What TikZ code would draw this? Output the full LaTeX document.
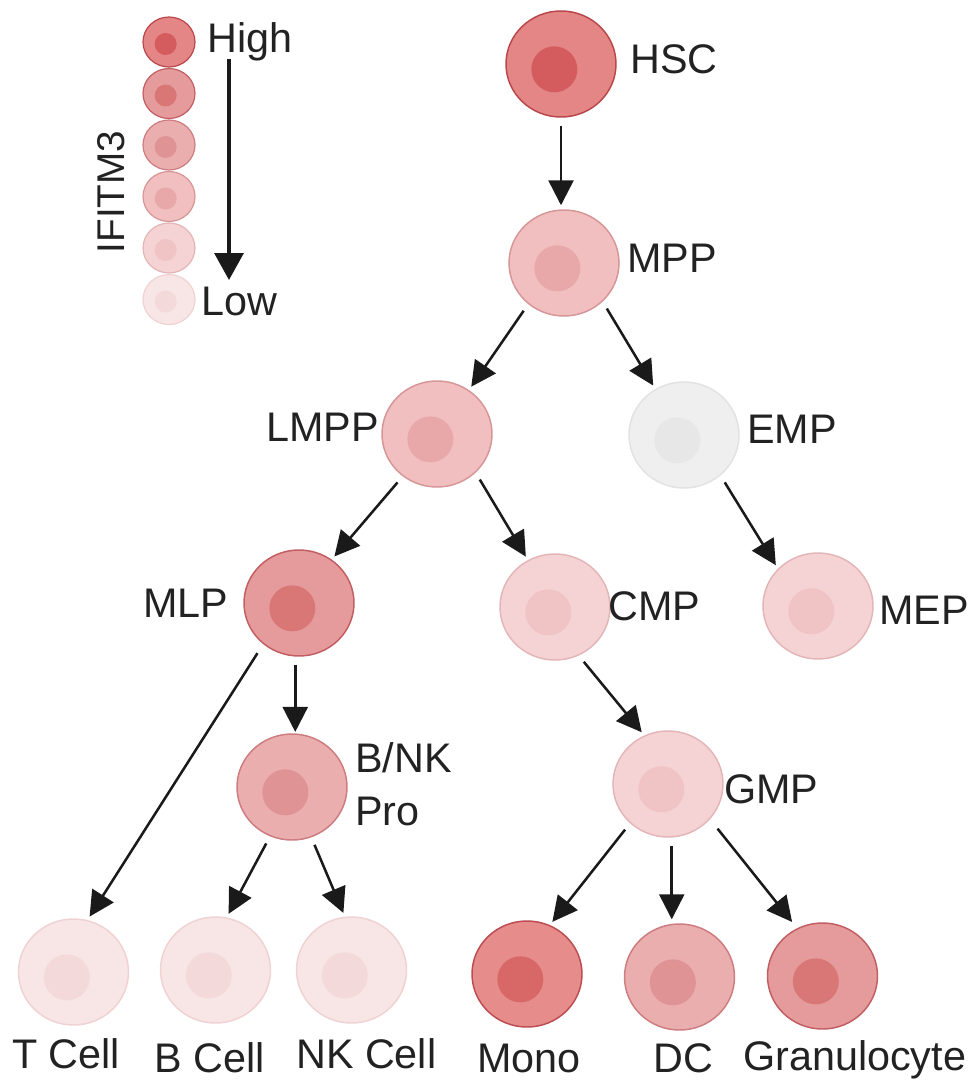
\documentclass[tikz,border=0pt]{standalone}
\usepackage{fontspec}
\setmainfont{Liberation Sans}
\usetikzlibrary{arrows.meta,shapes.geometric}

% expression levels, dark to light: body, nucleus, rim
\definecolor{lvone}{HTML}{E48686}\definecolor{lvonenuc}{HTML}{D55C5E}\definecolor{lvoneline}{HTML}{B8464A}
\definecolor{lvmono}{HTML}{E68C8B}\definecolor{lvmononuc}{HTML}{D86767}\definecolor{lvmonoline}{HTML}{BC4C51}
\definecolor{lvtwo}{HTML}{E59B9B}\definecolor{lvtwonuc}{HTML}{D97777}\definecolor{lvtwoline}{HTML}{C25D62}
\definecolor{lvthree}{HTML}{EBAEAE}\definecolor{lvthreenuc}{HTML}{E09394}\definecolor{lvthreeline}{HTML}{CD7C80}
\definecolor{lvfour}{HTML}{F1BFBF}\definecolor{lvfournuc}{HTML}{E8A8A9}\definecolor{lvfourline}{HTML}{D69596}
\definecolor{lvfive}{HTML}{F5D3D4}\definecolor{lvfivenuc}{HTML}{F0C3C4}\definecolor{lvfiveline}{HTML}{E3B5B6}
\definecolor{lvsix}{HTML}{F8E5E5}\definecolor{lvsixnuc}{HTML}{F4D9DA}\definecolor{lvsixline}{HTML}{F0D2D3}
\definecolor{lvgrey}{HTML}{EFEFEF}\definecolor{lvgreynuc}{HTML}{E7E7E7}\definecolor{lvgreyline}{HTML}{E2E2E2}
\definecolor{ink}{HTML}{222222}
\definecolor{arrowink}{HTML}{1A1A1A}

\tikzset{
	cell/.style={ellipse, draw=#1line, fill=#1, line width=1.1pt, inner sep=0pt,
		minimum width=82.5pt, minimum height=79.5pt,
		path picture={\fill[#1nuc] ([shift={(-5pt,-4pt)}]path picture bounding box.center) circle (17.25pt);}},
	legcell/.style={ellipse, draw=#1line, fill=#1, line width=0.9pt, inner sep=0pt,
		minimum width=39pt, minimum height=37.5pt,
		path picture={\fill[#1nuc] ([shift={(-2.5pt,-1.5pt)}]path picture bounding box.center) circle (8.25pt);}},
	lbl/.style={anchor=base west, text=ink, inner sep=0pt},
	arr/.style={-{Triangle[width=18.75pt,length=18.75pt]}, line width=1.9pt, draw=arrowink,
		shorten <=6pt, shorten >=3pt},
}

\begin{document}
\begin{tikzpicture}[x=0.75pt, y=-0.75pt, font=\fontsize{31}{36}\selectfont]
	\useasboundingbox (0,0) rectangle (967,1081);
	
	%%%%% LEGEND %%%%%
	\foreach \lv [count=\i] in {lvone,lvtwo,lvthree,lvfour,lvfive,lvsix}
		\node[legcell=\lv] (leg\i) at (169, {42+51.5*(\i-1)}) {};
	\node[lbl] (high) at (207, 53) {High};
	\node[lbl] (low) at (201, 315) {Low};
	\coordinate (legtop) at (229, 59);
	\coordinate (legbot) at (229, 280);
	\draw[-{Triangle[width=21.75pt,length=20.25pt]}, line width=2.5pt, draw=arrowink] (legtop) -- (legbot);
	\node[text=ink, rotate=90, font=\fontsize{29}{33}\selectfont] (gene) at (111, 192) {IFITM3};
	
	%%%%% CELLS %%%%%
	\node[cell=lvone] (hsc) at (561, 64) {};
	\node[cell=lvfour] (mpp) at (564, 263) {};
	\node[cell=lvfour] (lmpp) at (437, 434) {};
	\node[cell=lvgrey] (emp) at (684, 435) {};
	\node[cell=lvtwo] (mlp) at (299, 603) {};
	\node[cell=lvfive] (cmp) at (555, 607) {};
	\node[cell=lvfive] (mep) at (818, 606) {};
	\node[cell=lvthree] (bnk) at (292, 787) {};
	\node[cell=lvfive] (gmp) at (668, 784) {};
	
	\node[cell=lvsix] (tcell) at (73.5, 972) {};
	\node[cell=lvsix] (bcell) at (215.5, 970) {};
	\node[cell=lvsix] (nkcell) at (351.5, 970) {};
	\node[cell=lvmono] (mono) at (527, 974) {};
	\node[cell=lvthree] (dc) at (679.5, 977) {};
	\node[cell=lvtwo] (gran) at (822.5, 976) {};
	
	%%%%% NAMES %%%%%
	\node[lbl] (hsc-txt) at (630, 74) {HSC};
	\node[lbl] (mpp-txt) at (627, 272) {MPP};
	\node[lbl] (lmpp-txt) at (266, 441) {LMPP};
	\node[lbl] (emp-txt) at (747, 443) {EMP};
	\node[lbl] (mlp-txt) at (143, 617) {MLP};
	\node[lbl] (cmp-txt) at (608, 620) {CMP};
	\node[lbl] (mep-txt) at (879, 624) {MEP};
	\node[lbl] (bnk-txt) at (355, 772) {B/NK};
	\node[lbl] (pro-txt) at (355, 825) {Pro};
	\node[lbl] (gmp-txt) at (724, 803) {GMP};
	
	\node[lbl] (tcell-txt) at (12, 1068) {T Cell};
	\node[lbl] (bcell-txt) at (154, 1072) {B Cell};
	\node[lbl] (nkcell-txt) at (296, 1068) {NK Cell};
	\node[lbl] (mono-txt) at (477, 1072) {Mono};
	\node[lbl] (dc-txt) at (653, 1072) {DC};
	\node[lbl] (gran-txt) at (743, 1070) {Granulocyte};
	
	%%%%% LINEAGE %%%%%
	\draw[arr] (hsc.south) -- (hsc.south |- mpp.north);
	\draw[arr] (mpp.-131) -- (lmpp.54);
	\draw[arr] (mpp.-45) -- (emp.122);
	\draw[arr] (lmpp.-129) -- (mlp.53);
	\draw[arr] (lmpp.-45) -- (cmp.120);
	\draw[arr] (emp.-48) -- (mep.137);
	
	\draw[arr, shorten <=8pt] (mlp.-131) -- (tcell.75);
	\draw[arr, shorten >=1pt] (mlp.-94) -- (mlp.-94 |- bnk.north);
	\draw[arr] (cmp.-64) -- (gmp.116);
	
	\draw[arr] (bnk.-114) -- (bcell.78);
	\draw[arr] (bnk.-69) -- (nkcell.97);
	\draw[arr] (gmp.-134) -- (mono.65);
	\draw[arr] (gmp.-86) -- (gmp.-86 |- dc.north);
	\draw[arr, shorten <=9pt, shorten >=6pt] (gmp.-40) -- (gran.118);
	
\end{tikzpicture}
\end{document}
